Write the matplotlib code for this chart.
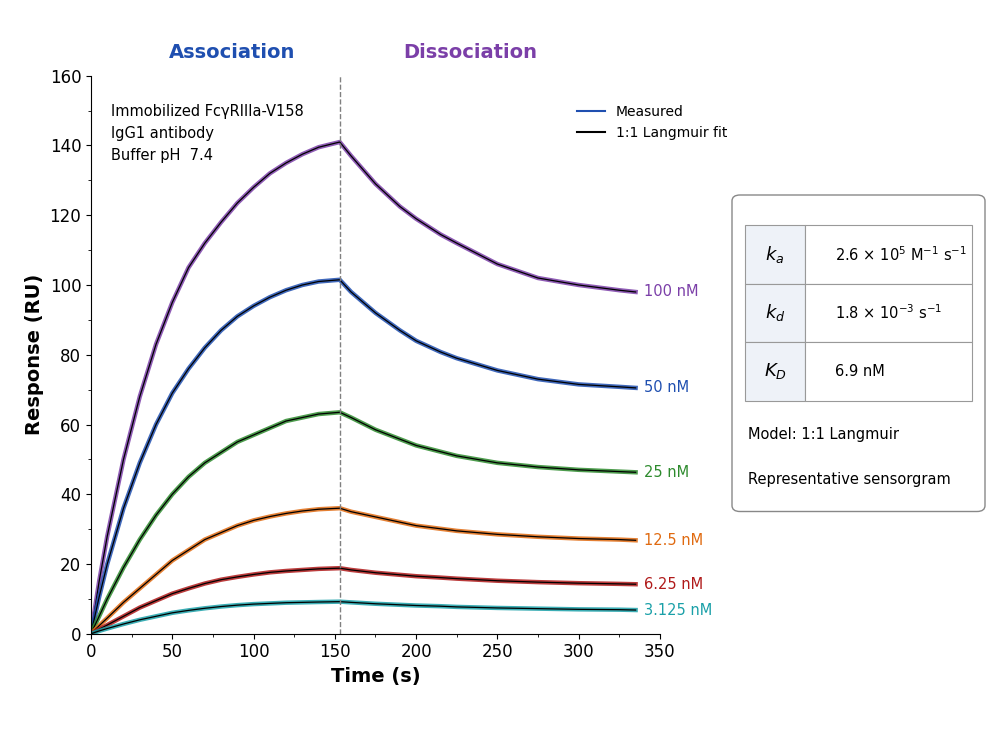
import matplotlib
matplotlib.use("Agg")
import matplotlib.pyplot as plt
from matplotlib.patches import FancyBboxPatch, Rectangle
from matplotlib.ticker import AutoMinorLocator

# time points (s)
t_assoc = [0, 5, 10, 20, 30, 40, 50, 60, 70, 80, 90, 100, 110, 120, 130, 140, 153]
t_dissoc = [153, 160, 175, 190, 200, 215, 225, 250, 275, 300, 325, 335]

labels = ["100 nM", "50 nM", "25 nM", "12.5 nM", "6.25 nM", "3.125 nM"]
colors = ["#7b3fa8", "#1f4fb0", "#2e8b2e", "#e06a10", "#b01a1a", "#1aa0a8"]
assoc = [
    [0, 15, 28, 50, 68, 83, 95, 105, 112, 118, 123.5, 128, 132, 135, 137.5, 139.5, 141],
    [0, 10.5, 20, 36, 49, 60, 69, 76, 82, 87, 91, 94, 96.5, 98.5, 100, 101, 101.5],
    [0, 5, 10, 19, 27, 34, 40, 45, 49, 52, 55, 57, 59, 61, 62, 63, 63.5],
    [0, 2.3, 4.5, 9, 13, 17, 21, 24, 27, 29, 31, 32.5, 33.6, 34.5, 35.2, 35.7, 36],
    [0, 1.3, 2.5, 5, 7.5, 9.5, 11.5, 13, 14.4, 15.5, 16.3, 17, 17.6, 18, 18.3, 18.6, 18.8],
    [0, 0.8, 1.5, 2.8, 4, 5, 6, 6.7, 7.3, 7.8, 8.2, 8.5, 8.7, 8.9, 9, 9.1, 9.2],
]
dissoc = [
    [141, 137, 129, 122.5, 119, 114.5, 112, 106, 102, 100, 98.5, 98],
    [101.5, 98, 92, 87, 84, 80.8, 79, 75.5, 73, 71.5, 70.8, 70.5],
    [63.5, 62, 58.5, 55.8, 54, 52.2, 51, 49, 47.8, 47, 46.5, 46.3],
    [36, 35, 33.5, 32, 31, 30.1, 29.5, 28.5, 27.8, 27.3, 27, 26.8],
    [18.8, 18.3, 17.5, 16.9, 16.5, 16.1, 15.8, 15.2, 14.8, 14.5, 14.3, 14.2],
    [9.2, 9, 8.6, 8.3, 8.1, 7.9, 7.7, 7.4, 7.2, 7, 6.9, 6.8],
]

fig = plt.figure(figsize=(10, 7.5), dpi=100)
ax = fig.add_axes([0.091, 0.155, 0.569, 0.744])

for lab, c, ya, yd in zip(labels, colors, assoc, dissoc):
    t = t_assoc + t_dissoc[1:]
    y = ya + yd[1:]
    ax.plot(t, y, color=c, lw=3.2, alpha=0.85)
    ax.plot(t, y, color="black", lw=0.9)
    ax.text(t_dissoc[-1] + 5, yd[-1], lab, color=c, fontsize=10.5, va="center")

ax.axvline(153, color="grey", ls="--", lw=1)
ax.set_xlim(0, 350)
ax.set_ylim(0, 160)
ax.xaxis.set_minor_locator(AutoMinorLocator(2))
ax.yaxis.set_minor_locator(AutoMinorLocator(2))
ax.tick_params(labelsize=12)
for s in ["top", "right"]:
    ax.spines[s].set_visible(False)
ax.set_xlabel("Time (s)", fontsize=14, fontweight="bold")
ax.set_ylabel("Response (RU)", fontsize=14, fontweight="bold")

ax.text(87, 165, "Association", color="#1f4fb0", fontsize=14, fontweight="bold", ha="center")
ax.text(233, 165, "Dissociation", color="#7b3fa8", fontsize=14, fontweight="bold", ha="center")
ax.text(12, 152, "Immobilized FcγRIIIa-V158\nIgG1 antibody\nBuffer pH  7.4",
        fontsize=10.5, va="top", linespacing=1.6)

ax.plot([], [], color="#1f4fb0", label="Measured")
ax.plot([], [], color="black", label="1:1 Langmuir fit")
ax.legend(loc="upper right", bbox_to_anchor=(1.14, 0.97), frameon=False, fontsize=10)

# kinetic parameter box
fig.add_artist(FancyBboxPatch((0.732, 0.318), 0.253, 0.422, boxstyle="round,pad=0,rounding_size=0.008",
                              transform=fig.transFigure, fc="white", ec="#888888", lw=1))
rows = [("$k_a$", "2.6 × 10$^5$ M$^{-1}$ s$^{-1}$"),
        ("$k_d$", "1.8 × 10$^{-3}$ s$^{-1}$"),
        ("$K_D$", "6.9 nM")]
x0, x1, x2 = 0.745, 0.805, 0.972
top, rh = 0.700, 0.078
for i, (k, v) in enumerate(rows):
    yb = top - (i + 1) * rh
    fig.add_artist(Rectangle((x0, yb), x1 - x0, rh, transform=fig.transFigure,
                             fc="#eef2f8", ec="#999999", lw=0.8))
    fig.add_artist(Rectangle((x1, yb), x2 - x1, rh, transform=fig.transFigure,
                             fc="white", ec="#999999", lw=0.8))
    fig.text((x0 + x1) / 2, yb + rh / 2, k, fontsize=13, ha="center", va="center")
    fig.text(x1 + 0.03, yb + rh / 2, v, fontsize=10.5, va="center")
fig.text(0.748, 0.42, "Model: 1:1 Langmuir", fontsize=10.5, va="center")
fig.text(0.748, 0.361, "Representative sensorgram", fontsize=10.5, va="center")

fig.savefig("out.png", dpi=100)
